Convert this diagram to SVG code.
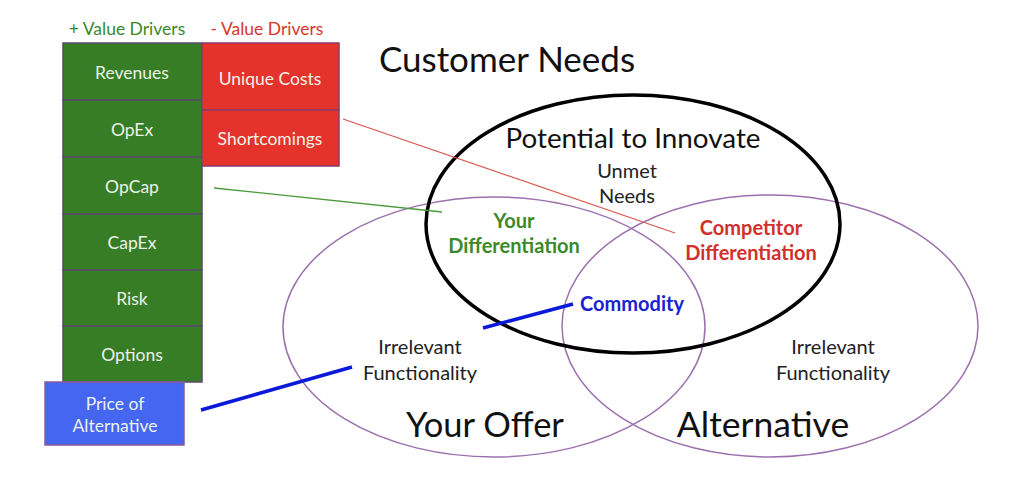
<svg xmlns="http://www.w3.org/2000/svg" width="1024" height="497" viewBox="0 0 1024 497">
<style>
text{font-family:Lato,"Open Sans","Liberation Sans",sans-serif;text-anchor:middle}
.g rect{fill:#367d25;stroke:#5a4a6a;stroke-width:1.5}
.r rect{fill:#e5322a;stroke:#8a3a6a;stroke-width:1.5}
.bx{fill:#ecf2e8;font-size:17.5px}
.ell{fill:none;stroke:#9b70ae;stroke-width:1.5}
.lbl{fill:#222;font-size:20px}
.bold{font-weight:bold;font-size:20px}
</style>
<rect width="1024" height="497" fill="#fff"/>
<text x="127" y="35" font-size="17.5" fill="#3a8a2a">+ Value Drivers</text>
<text x="267" y="35" font-size="17.5" fill="#d9362c">- Value Drivers</text>
<g id="revenues" class="g"><rect x="63" y="43" width="139" height="57"/><text class="bx" x="132" y="79">Revenues</text></g>
<g id="opex" class="g"><rect x="63" y="100" width="139" height="57"/><text class="bx" x="132" y="136">OpEx</text></g>
<g id="opcap" class="g"><rect x="63" y="157" width="139" height="57"/><text class="bx" x="132" y="193">OpCap</text></g>
<g id="capex" class="g"><rect x="63" y="214" width="139" height="56"/><text class="bx" x="132" y="249">CapEx</text></g>
<g id="risk" class="g"><rect x="63" y="270" width="139" height="56"/><text class="bx" x="132" y="305">Risk</text></g>
<g id="options" class="g"><rect x="63" y="326" width="139" height="56"/><text class="bx" x="132" y="361">Options</text></g>
<g id="unique-costs" class="r"><rect x="202" y="43" width="137" height="67"/><text class="bx" x="270" y="85">Unique Costs</text></g>
<g id="shortcomings" class="r"><rect x="202" y="110" width="137" height="56"/><text class="bx" x="270" y="145">Shortcomings</text></g>
<g id="price"><rect x="45" y="382" width="139" height="63" fill="#4566f0" stroke="#8a5aa0" stroke-width="1.5"/><text class="bx" x="115" y="410">Price of</text><text class="bx" x="115" y="432">Alternative</text></g>
<text x="507" y="72" font-size="35" fill="#111">Customer Needs</text>
<g id="your-offer"><ellipse class="ell" cx="494" cy="327" rx="211" ry="130"/><text x="485" y="437" font-size="34.5" fill="#111">Your Offer</text></g>
<g id="alternative"><ellipse class="ell" cx="770" cy="326" rx="208" ry="131"/><text x="763" y="437" font-size="35.5" fill="#111">Alternative</text></g>
<g id="potential"><ellipse cx="633" cy="224" rx="207" ry="129" fill="none" stroke="#000" stroke-width="3.5"/><text x="633" y="148" font-size="27.8" fill="#111">Potential to Innovate</text><text class="lbl" x="627" y="178">Unmet</text><text class="lbl" x="627" y="203">Needs</text></g>
<g id="connectors">
<line x1="343" y1="119" x2="675" y2="233" stroke="#d9584e" stroke-width="1.3"/>
<line x1="214" y1="188" x2="442" y2="212" stroke="#4a9a3a" stroke-width="1.3"/>
<line x1="201" y1="410" x2="352" y2="367" stroke="#0a1ad8" stroke-width="3.5"/>
<line x1="483" y1="328" x2="573" y2="304" stroke="#0a1ad8" stroke-width="3.5"/>
</g>
<g id="your-diff"><text class="bold" x="514" y="228" fill="#3a8a2a">Your</text><text class="bold" x="514" y="253" fill="#3a8a2a">Differentiation</text></g>
<g id="comp-diff"><text class="bold" x="751" y="235" fill="#d2302a">Competitor</text><text class="bold" x="751" y="260" fill="#d2302a">Differentiation</text></g>
<g id="commodity"><text class="bold" x="632" y="311" fill="#1a22d0">Commodity</text></g>
<g id="irr-left"><text class="lbl" x="420" y="354">Irrelevant</text><text class="lbl" x="420" y="380">Functionality</text></g>
<g id="irr-right"><text class="lbl" x="833" y="354">Irrelevant</text><text class="lbl" x="833" y="380">Functionality</text></g>
</svg>
